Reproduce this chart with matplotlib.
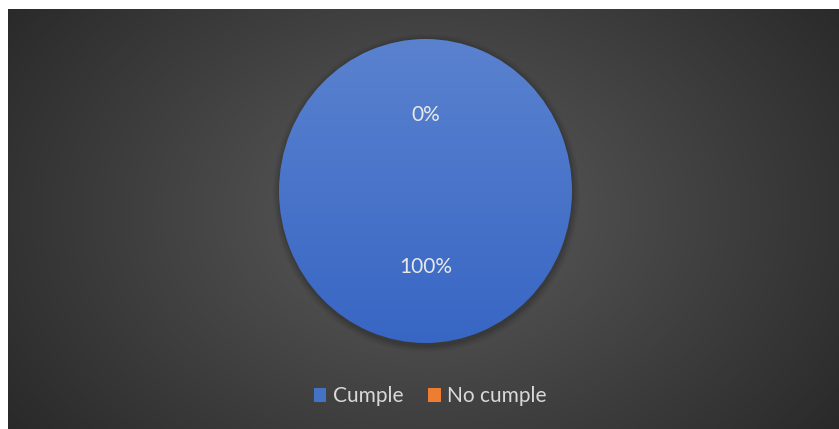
import numpy as np
import matplotlib
matplotlib.use("Agg")
import matplotlib.pyplot as plt
from matplotlib.patches import Patch, Ellipse
from matplotlib.colors import LinearSegmentedColormap

categories = ["Cumple", "No cumple"]
values = [100, 0]
colors = ["#4472C4", "#ED7D31"]

W, H, DPI = 839, 429, 100
fig = plt.figure(figsize=(W / DPI, H / DPI), dpi=DPI, facecolor="white")

def px(x0, y0, w, h):
    """Axes rectangle from pixel box (top-left origin)."""
    return [x0 / W, (H - y0 - h) / H, w / W, h / H]

# Dark radial-gradient chart area
bg = fig.add_axes(px(8, 9, 831, 420))
bg.set_axis_off()
gx = np.linspace(0, 831, 831)
gy = np.linspace(0, 420, 420)
X, Y = np.meshgrid(gx, gy)
cx, cy = 418, 205
d = np.sqrt(((X - cx) / 415) ** 2 + ((Y - cy) / 300) ** 2) / np.sqrt(2)
d = np.clip(d, 0, 1)
c0 = np.array([0x5c, 0x5c, 0x5c]) / 255
c1 = np.array([0x22, 0x22, 0x22]) / 255
img = c0[None, None, :] * (1 - d[..., None]) + c1[None, None, :] * d[..., None]
bg.imshow(img, extent=(0, 831, 420, 0), aspect="auto", interpolation="bilinear")
bg.set_xlim(0, 831)
bg.set_ylim(420, 0)

# Pie axes (slightly taller than wide)
pcx, pcy, rx, ry = 425.5, 191, 146.5, 152
pad = 1.15
ax = fig.add_axes(px(pcx - rx * pad, pcy - ry * pad, 2 * rx * pad, 2 * ry * pad))
ax.set_axis_off()

# soft shadow under the pie
for i, a in enumerate(np.linspace(0.05, 0.02, 6)):
    s = 1.0 + 0.008 * (i + 1)
    ax.add_patch(Ellipse((0.005, -0.015), 2 * s, 2 * s, facecolor="black",
                         alpha=a, edgecolor="none", zorder=0))

wedges, texts, autotexts = ax.pie(
    values, colors=colors, startangle=90, counterclock=False,
    autopct="%1.0f%%", pctdistance=0.5, radius=1.0,
    wedgeprops=dict(linewidth=0),
    textprops=dict(color="#e8e8e8", fontsize=15, family=["Lato", "DejaVu Sans"]),
)
ax.set_aspect("auto")
ax.set_xlim(-pad, pad)
ax.set_ylim(-pad, pad)

# vertical gradient fill for the main wedge
grad_cmap = LinearSegmentedColormap.from_list("blue", ["#3866C4", "#5A82CF"])
gv = np.linspace(0, 1, 256)[:, None]
for w in wedges:
    if w.theta2 - w.theta1 > 0.01:
        w.set_facecolor("none")
        im = ax.imshow(gv, extent=(-1, 1, -1, 1), origin="lower", cmap=grad_cmap,
                       aspect="auto", zorder=1)
        im.set_clip_path(w)
for t in autotexts:
    t.set_zorder(5)

# Legend
handles = [Patch(facecolor=c, edgecolor="none") for c in colors]
fig.legend(handles, categories, loc="center", bbox_to_anchor=(430 / W, 1 - 396 / H),
           ncol=2, frameon=False, handlelength=0.6, handleheight=0.65,
           handletextpad=0.3, columnspacing=1.2,
           prop=dict(family=["Lato", "DejaVu Sans"], size=15), labelcolor="#d9d9d9")

fig.savefig("out.png", dpi=DPI, facecolor="white")
